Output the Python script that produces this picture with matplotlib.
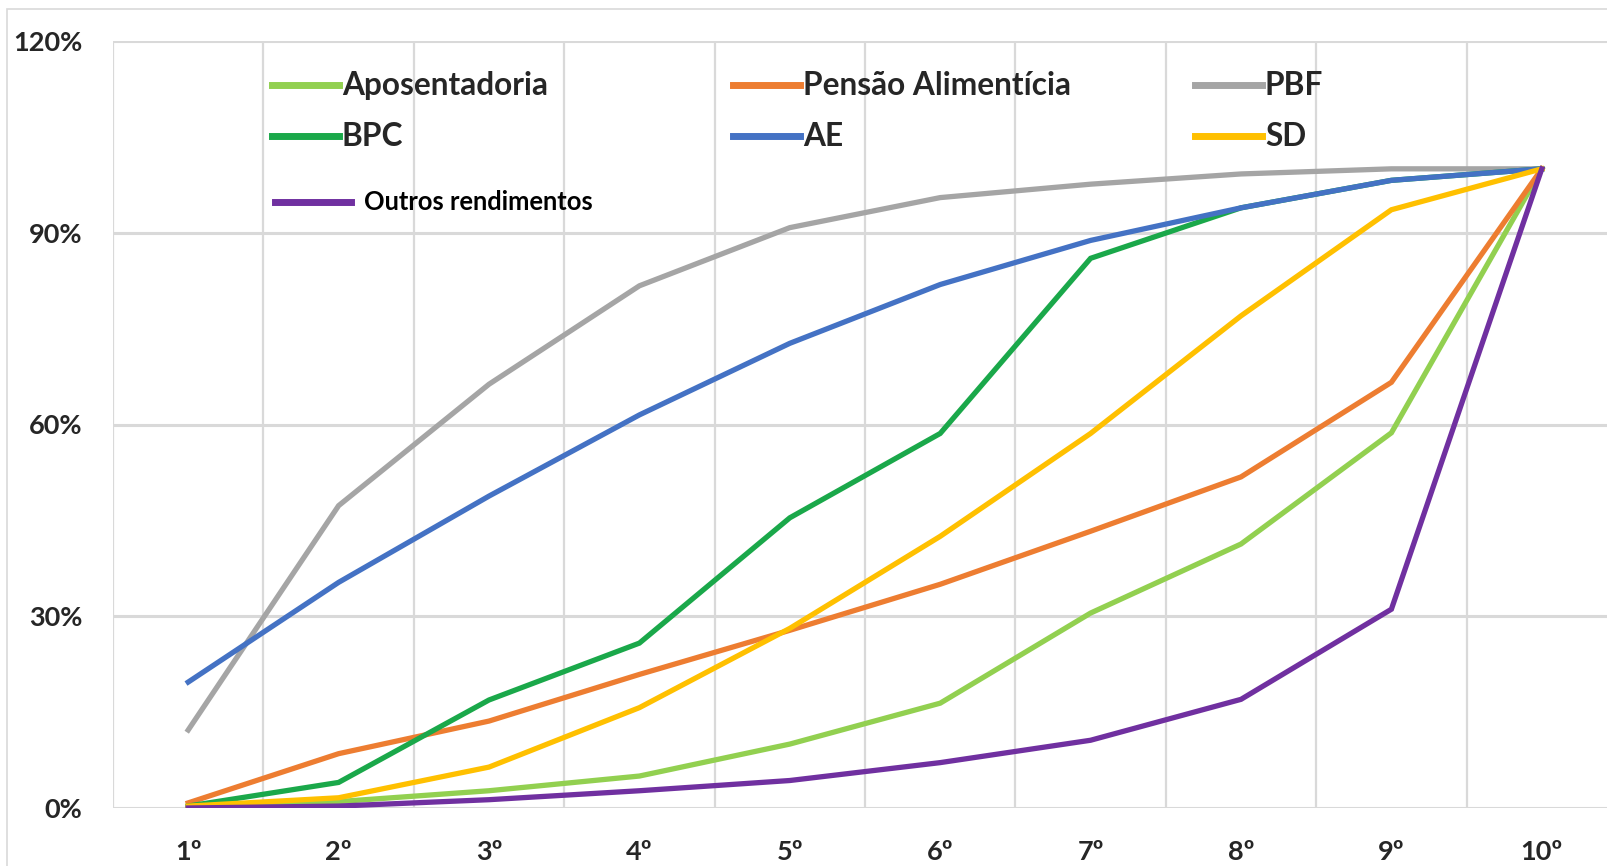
import matplotlib
matplotlib.use("Agg")
import matplotlib.pyplot as plt
from matplotlib.lines import Line2D
from matplotlib.patches import Rectangle

plt.rcParams["font.family"] = ["Lato", "DejaVu Sans"]
plt.rcParams["font.weight"] = "bold"

deciles = ["1º", "2º", "3º", "4º", "5º", "6º", "7º", "8º", "9º", "10º"]

aposentadoria = [0.0, 1.0, 2.7, 5.0, 10.0, 16.4, 30.5, 41.3, 58.7, 100.0]
pensao = [0.8, 8.5, 13.6, 20.9, 27.8, 35.0, 43.3, 51.8, 66.6, 100.0]
pbf = [12.2, 47.3, 66.3, 81.7, 90.8, 95.5, 97.6, 99.2, 100.0, 100.0]
bpc = [0.3, 4.0, 16.9, 25.8, 45.4, 58.6, 86.0, 93.9, 98.2, 100.0]
ae = [19.7, 35.3, 48.8, 61.5, 72.7, 81.9, 88.8, 93.9, 98.2, 100.0]
sd = [0.3, 1.6, 6.4, 15.7, 28.1, 42.5, 58.6, 77.0, 93.6, 100.0]
outros = [0.0, 0.3, 1.3, 2.7, 4.3, 7.1, 10.6, 17.0, 31.1, 100.0]

series = [
    ("Aposentadoria", aposentadoria, "#92d050"),
    ("Pensão Alimentícia", pensao, "#ed7d31"),
    ("PBF", pbf, "#a5a5a5"),
    ("BPC", bpc, "#1aa84a"),
    ("AE", ae, "#4472c4"),
    ("SD", sd, "#ffc000"),
    ("Outros rendimentos", outros, "#7030a0"),
]

W, H = 1608, 866
fig = plt.figure(figsize=(W / 100, H / 100), dpi=100)
fig.patch.set_facecolor("white")

# axes box in pixels: left 113, right 1617 (runs past the figure edge), 0% at y=808, 120% at y=41
left, right, bottom, top = 113, 1617, 866 - 808, 866 - 41
ax = fig.add_axes([left / W, bottom / H, (right - left) / W, (top - bottom) / H])

x = list(range(len(deciles)))
for name, vals, color in series:
    ax.plot(x, vals, color=color, lw=3.8, solid_joinstyle="miter", zorder=3)

ax.set_xlim(-0.5, len(deciles) - 0.5)
ax.set_ylim(0, 120)
ax.set_yticks([0, 30, 60, 90, 120])
ax.set_yticklabels(["0%", "30%", "60%", "90%", "120%"])
ax.set_xticks(x)
ax.set_xticklabels(deciles)
ax.set_xticks([i - 0.5 for i in range(len(deciles) + 1)], minor=True)

ax.grid(False)
ax.grid(True, axis="y", which="major", color="#d9d9d9", lw=2.2, zorder=0)
ax.grid(True, axis="x", which="minor", color="#d9d9d9", lw=1.6, zorder=0)
for s in ax.spines.values():
    s.set_visible(False)
ax.tick_params(axis="both", which="both", length=0)
ax.tick_params(axis="y", pad=22, labelsize=19.5, labelcolor="#262626")
ax.tick_params(axis="x", pad=23, labelsize=19.5, labelcolor="#262626")

# legend: two rows of three, then "Outros rendimentos" on its own row
col_x = [265, 715, 1165]
row_y = [83, 133]
order = [[0, 3], [1, 4], [2, 5]]
for ci, idxs in enumerate(order):
    for ri, si in enumerate(idxs):
        name, _, color = series[si]
        yy = 866 - row_y[ri] / 0.975
        x0 = col_x[ci] / 0.975
        fig.add_artist(Line2D([x0 / W, (x0 + 67) / W], [yy / H, yy / H],
                              color=color, lw=5, transform=fig.transFigure))
        fig.text((x0 + 70) / W, yy / H, name, fontsize=22.8, color="#262626",
                 va="center", ha="left")

name, _, color = series[6]
yy = 866 - 197 / 0.975
fig.add_artist(Line2D([275 / W, 351 / W], [yy / H, yy / H], color=color, lw=5,
                      transform=fig.transFigure))
fig.text(364 / W, yy / H, name, fontsize=18.4, color="black", va="center",
         ha="left")

# faint outer frame
fig.add_artist(Rectangle((7 / W, -0.05), 1.2, (866 - 9) / H + 0.05,
                         transform=fig.transFigure, fill=False,
                         edgecolor="#d9d9d9", lw=1.2))

fig.savefig("out.png", dpi=100)
